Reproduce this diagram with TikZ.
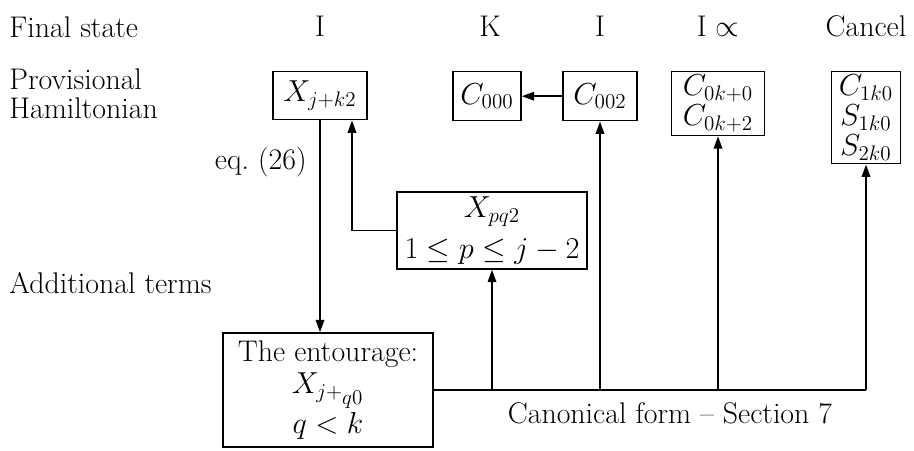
\documentclass[tikz,border=0pt]{standalone}
\usepackage{tikz}
\usetikzlibrary{arrows.meta, positioning, calc}

\begin{document}
\begin{tikzpicture}[
  every node/.style={font=\fontsize{17}{17}\selectfont},
  lbl/.style={inner sep=0pt},
  hbox/.style={draw, line width=0.8pt, align=center, inner sep=2pt},
  flow/.style={line width=1.1pt, -{Triangle[length=2.5mm,width=1.7mm]}},
  bus/.style={line width=1.1pt}
]
\useasboundingbox (0,0) rectangle (18.28,-9);

% Row labels on the left
\node[lbl, anchor=base west] (fin) at (0.18,-0.74) {Final state};
\node[lbl, anchor=west, align=left, font=\fontsize{17}{16.5}\selectfont] (prov) at (0.18,-1.88)
  {Provisional\\Hamiltonian};
\node[lbl, anchor=west] (add) at (0.18,-5.66) {Additional terms};

% Final state of each column
\node[lbl, anchor=base] (s1) at (6.4,-0.72) {I};
\node[lbl, anchor=base] (s2) at (9.8,-0.72) {K};
\node[lbl, anchor=base] (s3) at (12.0,-0.72) {I};
\node[lbl, anchor=base] (s4) at (14.36,-0.72) {I $\propto$};
\node[lbl, anchor=base] (s5) at (17.32,-0.72) {Cancel};

% Provisional Hamiltonian boxes, tops at the same height
\node[hbox, anchor=north, minimum width=1.88cm, minimum height=0.96cm] (xbox) at (6.4,-1.42) {$X_{j+k2}$};
\node[hbox, anchor=north, minimum width=1.36cm, minimum height=0.98cm] (c000) at (9.74,-1.42) {$C_{000}$};
\node[hbox, anchor=north, minimum width=1.48cm, minimum height=0.98cm] (c002) at (12.0,-1.42) {$C_{002}$};
\node[hbox, anchor=north, minimum width=1.86cm] (c0k) at (14.36,-1.42) {$C_{0k+0}$\\$C_{0k+2}$};
\node[hbox, anchor=north, minimum width=1.38cm] (canc) at (17.32,-1.42) {$C_{1k0}$\\$S_{1k0}$\\$S_{2k0}$};

% Additional terms
\node[hbox, minimum width=3.8cm, minimum height=1.54cm] (xpq) at (9.84,-4.61) {$X_{pq2}$\\[6pt]$1\le p\le j-2$};
\node[hbox, minimum width=4.2cm, minimum height=2.28cm] (ent) at (6.56,-7.8)
  {The entourage:\\[1pt]$X_{j+_{\scriptstyle q0}}$\\[1pt]$q<k$};

\node[lbl, anchor=east] (eq) at (6.14,-3.24) {eq.~(26)};
\node[lbl] (canon) at (13.4,-8.26) {Canonical form -- Section 7};

% Connectors
\draw[flow] (c002) -- (c000);
\draw[flow] (xbox.south) -- (xbox.south |- ent.north);
\draw[flow] (xpq.west) -| ($(xbox.south)+(0.64,0)$);

% Canonical form bus
\coordinate (busend) at (canc.south |- ent.east);
\draw[bus] (ent.east) -- (busend);
\foreach \tgt in {xpq,c002,c0k,canc}{
  \draw[flow] (\tgt.south |- ent.east) -- (\tgt.south);
}

\end{tikzpicture}
\end{document}
